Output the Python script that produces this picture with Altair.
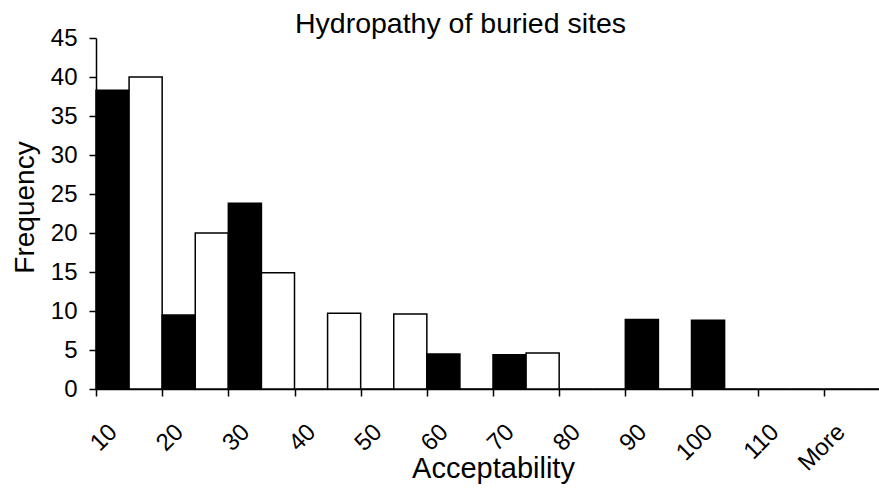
import altair as alt
import pandas as pd

categories = ["10", "20", "30", "40", "50", "60", "70", "80", "90", "100", "110", "More"]
series_black = [38.3, 9.5, 23.8, 0, 0, 4.5, 4.4, 0, 8.9, 8.8, 0, 0]
series_white = [40.0, 20.0, 14.9, 9.7, 9.6, 0, 4.6, 0, 0, 0, 0, 0]
series_names = ["Series 1", "Series 2"]
y_ticks = [0, 5, 10, 15, 20, 25, 30, 35, 40, 45]

rows = []
for c, b, w in zip(categories, series_black, series_white):
    rows.append({"bin": c, "series": series_names[0], "freq": b})
    rows.append({"bin": c, "series": series_names[1], "freq": w})
df = pd.DataFrame(rows)

FONT = "Liberation Sans"

chart = alt.Chart(df).mark_bar(stroke="black", strokeWidth=1.5).encode(
    x=alt.X(
        "bin:N",
        sort=categories,
        scale=alt.Scale(paddingInner=0, paddingOuter=0, range=[0, 794]),
        axis=alt.Axis(
            title="Acceptability",
            titleFont=FONT,
            titleFontSize=29,
            titleFontWeight="normal",
            titleColor="black",
            titleX=397,
            titleY=88,
            titleBaseline="alphabetic",
            titleAlign="center",
            labelFont=FONT,
            labelFontSize=24,
            labelColor="black",
            labelAngle=315,
            labelAlign="right",
            labelBaseline="middle",
            labelOffset=-16,
            labelPadding=32,
            tickBand="extent",
            tickSize=7,
            tickColor="black",
            tickWidth=1.5,
            domainColor="black",
            domainWidth=1.5,
            grid=False,
        ),
    ),
    xOffset=alt.XOffset("series:N", sort=series_names, scale=alt.Scale(paddingInner=0, paddingOuter=0)),
    y=alt.Y(
        "freq:Q",
        scale=alt.Scale(domain=[0, 45], nice=False, zero=True),
        axis=alt.Axis(
            title="Frequency",
            titleFont=FONT,
            titleFontSize=28,
            titleFontWeight="normal",
            titleColor="black",
            titleAngle=270,
            titleX=-63,
            titleY=169,
            titleAlign="center",
            titleBaseline="alphabetic",
            values=y_ticks,
            labelFont=FONT,
            labelFontSize=24,
            labelColor="black",
            labelPadding=12,
            tickSize=7,
            tickColor="black",
            tickWidth=1.5,
            domainColor="black",
            domainWidth=1.5,
            grid=False,
        ),
    ),
    fill=alt.Fill(
        "series:N",
        sort=series_names,
        scale=alt.Scale(domain=series_names, range=["black", "white"]),
        legend=None,
    ),
).properties(
    width=783,
    height=351,
    title=alt.TitleParams(
        "Hydropathy of buried sites",
        font=FONT,
        fontSize=28.5,
        fontWeight="normal",
        color="black",
        anchor="middle",
        frame="group",
        baseline="alphabetic",
        offset=0,
        dx=-27,
        dy=35,
    ),
    autosize=alt.AutoSizeParams(type="none"),
    padding={"left": 96, "top": 38, "right": 0, "bottom": 102},
).configure(background="white").configure_view(stroke=None)

chart.save("out.html", embed_options={"renderer": "svg", "actions": False})
